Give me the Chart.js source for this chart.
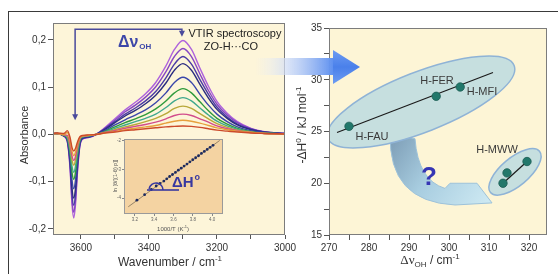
<!DOCTYPE html>
<html>
<head>
<meta charset="utf-8">
<title>VTIR spectroscopy</title>
<script src="https://cdn.jsdelivr.net/npm/chart.js@4.4.1/dist/chart.umd.min.js"></script>
<style>
  html, body { margin: 0; padding: 0; background: #fff; }
  #stage { position: relative; width: 558px; height: 274px; overflow: hidden; background: #fff; }
  #frame { position: absolute; left: 8px; top: 11px; width: 600px; height: 300px;
           border-top: 1.5px solid #3a3a3a; border-left: 1.5px solid #3a3a3a; }
  canvas { position: absolute; }
  #spectra { left: 0; top: 0; width: 300px; height: 274px; }
  #inset { left: 96px; top: 128px; width: 140px; height: 110px; }
  #enthalpy { left: 250px; top: 0; width: 308px; height: 274px; }
</style>
</head>
<body>
<div id="stage">
  <div id="frame"></div>
  <canvas id="spectra" width="300" height="274"></canvas>
  <canvas id="inset" width="140" height="110"></canvas>
  <canvas id="enthalpy" width="308" height="274"></canvas>
</div>
<script>
// spectra (absorbance vs wavenumber), one array per temperature
const wavenumber = [3700, 3670, 3650, 3640, 3632, 3626, 3621, 3616, 3610, 3603, 3595, 3575, 3555, 3530, 3500, 3470,
                    3440, 3410, 3380, 3350, 3325, 3300, 3275, 3250, 3225, 3200, 3170, 3140, 3100, 3060, 3000];
const absRed     = [0.001, 0.003, 0.002, 0.008, -0.006, -0.028, -0.035, -0.030, -0.016, -0.005, -0.002, -0.001, 0.000, 0.003, 0.005, 0.008,
                    0.010, 0.012, 0.014, 0.016, 0.017, 0.018, 0.017, 0.015, 0.012, 0.009, 0.007, 0.005, 0.003, 0.002, 0.001];
const absOrange  = [0.000, 0.002, 0.000, 0.004, -0.012, -0.036, -0.045, -0.038, -0.020, -0.007, -0.003, -0.002, 0.000, 0.003, 0.006, 0.010,
                    0.013, 0.016, 0.019, 0.024, 0.028, 0.030, 0.028, 0.024, 0.019, 0.014, 0.010, 0.007, 0.004, 0.002, 0.001];
const absMagenta = [0.000, 0.002, -0.001, -0.002, -0.020, -0.046, -0.055, -0.047, -0.025, -0.008, -0.003, -0.002, 0.000, 0.004, 0.008, 0.013,
                    0.017, 0.021, 0.026, 0.033, 0.040, 0.043, 0.040, 0.033, 0.026, 0.018, 0.012, 0.008, 0.004, 0.002, 0.001];
const absOlive   = [0.000, 0.002, -0.001, -0.004, -0.025, -0.055, -0.065, -0.055, -0.029, -0.009, -0.004, -0.002, 0.000, 0.004, 0.010, 0.016,
                    0.021, 0.027, 0.034, 0.044, 0.055, 0.060, 0.055, 0.044, 0.033, 0.023, 0.015, 0.009, 0.005, 0.002, 0.001];
const absTeal    = [0.000, 0.002, -0.002, -0.006, -0.032, -0.068, -0.080, -0.068, -0.036, -0.011, -0.005, -0.003, 0.000, 0.005, 0.013, 0.020,
                    0.027, 0.034, 0.043, 0.057, 0.071, 0.078, 0.071, 0.056, 0.041, 0.028, 0.018, 0.011, 0.005, 0.003, 0.001];
const absGreen   = [0.000, 0.002, -0.002, -0.008, -0.038, -0.081, -0.095, -0.081, -0.043, -0.013, -0.005, -0.003, 0.000, 0.006, 0.016, 0.025,
                    0.033, 0.042, 0.054, 0.071, 0.088, 0.097, 0.088, 0.069, 0.050, 0.034, 0.022, 0.013, 0.006, 0.003, 0.001];
const absBlue    = [0.000, 0.002, -0.002, -0.010, -0.046, -0.098, -0.115, -0.098, -0.052, -0.016, -0.006, -0.004, 0.000, 0.008, 0.020, 0.031,
                    0.041, 0.052, 0.067, 0.088, 0.110, 0.121, 0.110, 0.085, 0.062, 0.043, 0.027, 0.016, 0.008, 0.004, 0.001];
const absNavy    = [0.000, 0.002, -0.003, -0.011, -0.054, -0.115, -0.135, -0.115, -0.061, -0.019, -0.008, -0.005, 0.000, 0.010, 0.025, 0.039,
                    0.051, 0.065, 0.083, 0.109, 0.136, 0.150, 0.136, 0.106, 0.077, 0.053, 0.034, 0.020, 0.010, 0.005, 0.002];
const absIndigo  = [0.000, 0.002, -0.003, -0.013, -0.060, -0.128, -0.150, -0.128, -0.068, -0.021, -0.008, -0.005, 0.000, 0.012, 0.027, 0.043,
                    0.056, 0.071, 0.091, 0.120, 0.149, 0.165, 0.149, 0.116, 0.085, 0.058, 0.037, 0.022, 0.011, 0.005, 0.002];
const absPurple  = [0.000, 0.002, -0.003, -0.014, -0.066, -0.140, -0.165, -0.140, -0.074, -0.023, -0.009, -0.006, 0.000, 0.013, 0.030, 0.048,
                    0.062, 0.079, 0.101, 0.133, 0.165, 0.182, 0.165, 0.128, 0.093, 0.064, 0.041, 0.025, 0.012, 0.005, 0.002];
const absViolet  = [0.000, 0.002, -0.004, -0.015, -0.071, -0.150, -0.177, -0.150, -0.080, -0.025, -0.010, -0.006, 0.000, 0.014, 0.033, 0.052,
                    0.068, 0.086, 0.110, 0.145, 0.180, 0.199, 0.180, 0.140, 0.102, 0.070, 0.045, 0.027, 0.013, 0.006, 0.002];

// inset: van't Hoff plot
const invTemp = [3.22, 3.30, 3.37, 3.42, 3.46, 3.50, 3.53, 3.56, 3.59, 3.62, 3.65, 3.68, 3.71, 3.74, 3.77, 3.80,
                 3.83, 3.86, 3.89, 3.92, 3.95, 3.98, 4.01];
const lnTerm  = [-4.07, -3.88, -3.70, -3.58, -3.49, -3.41, -3.33, -3.25, -3.18, -3.11, -3.03, -2.96, -2.89, -2.82, -2.74, -2.67,
                 -2.60, -2.53, -2.45, -2.38, -2.31, -2.24, -2.17];
const invTempFit = [3.13, 4.08];
const lnTermFit = [-4.30, -2.00];

// right panel: enthalpy vs OH shift
const zeolites = ['H-FAU', 'H-FER', 'H-MFI', 'H-MWW', 'H-MWW', 'H-MWW'];
const shiftOH  = [275.0, 296.8, 302.8, 313.5, 314.5, 319.5];
const enthalpy = [25.5, 28.4, 29.3, 20.0, 21.0, 22.1];
const fitShift = [272, 311];
const fitEnthalpy = [24.9, 30.7];
const mwwShift = [313.5, 319.5];
const mwwEnthalpy = [20.0, 22.1];

const FONT = "'Liberation Sans', Arial, sans-serif";
Chart.defaults.font.family = FONT;
Chart.defaults.color = '#333';
Chart.defaults.animation = false;

const xy = (xs, ys) => xs.map((x, i) => ({x: x, y: ys[i]}));

function richText(ctx, parts, cx, cy, rotate) {
    ctx.save();
    ctx.translate(cx, cy);
    if (rotate) ctx.rotate(-Math.PI / 2);
    ctx.textBaseline = 'alphabetic';
    ctx.textAlign = 'left';
    let total = 0;
    parts.forEach(p => { ctx.font = p.font; p.w = ctx.measureText(p.t).width; total += p.w; });
    let x = -total / 2;
    parts.forEach(p => {
        ctx.font = p.font;
        ctx.fillStyle = p.color || '#333';
        ctx.fillText(p.t, x, 4 + (p.dy || 0));
        x += p.w;
    });
    ctx.restore();
}

function plotBox(fill, stroke) {
    return {
        id: 'plotBox',
        beforeDraw(chart) {
            const {ctx, chartArea: a} = chart;
            ctx.save();
            ctx.fillStyle = fill;
            ctx.fillRect(a.left, a.top, a.width, a.height);
            ctx.restore();
        },
        afterDatasetsDraw(chart) {
            const {ctx, chartArea: a} = chart;
            ctx.save();
            ctx.strokeStyle = stroke;
            ctx.lineWidth = 1;
            ctx.strokeRect(a.left + 0.5, a.top + 0.5, a.width - 1, a.height - 1);
            ctx.restore();
        }
    };
}

function spectrum(values, color) {
    return {
        data: xy(wavenumber, values),
        borderColor: color,
        borderWidth: 1.4,
        pointRadius: 0,
        cubicInterpolationMode: 'monotone',
        fill: false
    };
}

const axisTicks = {drawOnChartArea: false, drawTicks: true, color: '#555', lineWidth: 1};

// ---------- left: spectra ----------
const spectraNotes = {
    id: 'spectraNotes',
    afterDatasetsDraw(chart) {
        const {ctx, scales: {x, y}} = chart;
        const xl = x.getPixelForValue(3617), xr = x.getPixelForValue(3303);
        const yt = y.getPixelForValue(0.223);
        const yl = y.getPixelForValue(0.03), yr = y.getPixelForValue(0.207);
        ctx.save();
        ctx.strokeStyle = '#4a4a9c';
        ctx.fillStyle = '#4a4a9c';
        ctx.lineWidth = 1.5;
        ctx.beginPath();
        ctx.moveTo(xl, yl - 4);
        ctx.lineTo(xl, yt);
        ctx.lineTo(xr, yt);
        ctx.lineTo(xr, yr - 4);
        ctx.stroke();
        [[xl, yl], [xr, yr]].forEach(([px, py]) => {
            ctx.beginPath();
            ctx.moveTo(px - 3, py - 6);
            ctx.lineTo(px + 3, py - 6);
            ctx.lineTo(px, py);
            ctx.closePath();
            ctx.fill();
        });

        // delta nu OH
        const tx = x.getPixelForValue(3491), ty = y.getPixelForValue(0.194);
        ctx.fillStyle = '#3c46a8';
        ctx.textBaseline = 'middle';
        ctx.textAlign = 'left';
        ctx.font = 'bold 16px ' + FONT;
        ctx.fillText('Δν', tx, ty);
        const w = ctx.measureText('Δν').width;
        ctx.font = 'bold 8px ' + FONT;
        ctx.fillText('OH', tx + w + 1, ty + 4);

        ctx.fillStyle = '#222';
        ctx.textAlign = 'center';
        ctx.font = '11px ' + FONT;
        ctx.fillText('VTIR spectroscopy', x.getPixelForValue(3147), y.getPixelForValue(0.213));
        ctx.fillText('ZO-H···CO', x.getPixelForValue(3159), y.getPixelForValue(0.185));
        ctx.restore();
    },
    afterDraw(chart) {
        const {ctx} = chart;
        richText(ctx, [{t: 'Absorbance', font: '11px ' + FONT}], 24, 135, true);
        richText(ctx, [{t: 'Wavenumber / cm', font: '12px ' + FONT},
                       {t: '-1', font: '8px ' + FONT, dy: -5}], 170, 262, false);
    }
};

new Chart(document.getElementById('spectra'), {
    type: 'line',
    data: {
        datasets: [
            spectrum(absRed, '#cc4a2a'),
            spectrum(absOrange, '#e6a03c'),
            spectrum(absMagenta, '#d24c8c'),
            spectrum(absOlive, '#b8a83a'),
            spectrum(absTeal, '#40a88e'),
            spectrum(absGreen, '#2f9a3c'),
            spectrum(absBlue, '#3a46aa'),
            spectrum(absNavy, '#2b2c80'),
            spectrum(absIndigo, '#4b3aa6'),
            spectrum(absPurple, '#8746c4'),
            spectrum(absViolet, '#ae62dc')
        ]
    },
    options: {
        responsive: false,
        devicePixelRatio: 1,
        layout: {padding: {left: 0, right: 15, top: 23, bottom: 0}},
        plugins: {legend: {display: false}, tooltip: {enabled: false}},
        scales: {
            x: {
                type: 'linear',
                reverse: true,
                min: 3000,
                max: 3682,
                afterFit: s => { s.height = 39; },
                border: {display: false},
                grid: Object.assign({tickLength: 4}, axisTicks),
                ticks: {
                    stepSize: 100, includeBounds: false, autoSkip: false, maxRotation: 0, padding: 3,
                    font: {size: 10},
                    callback: v => (v % 200 === 0 ? String(v) : '')
                }
            },
            y: {
                min: -0.213,
                max: 0.236,
                afterFit: s => { s.width = 53; },
                border: {display: false},
                grid: Object.assign({tickLength: 5}, axisTicks),
                ticks: {
                    stepSize: 0.1, includeBounds: false, padding: 2,
                    font: {size: 10},
                    callback: v => (Math.abs(v) < 1e-9 ? '0,0' : v.toFixed(1).replace('.', ','))
                }
            }
        }
    },
    plugins: [plotBox('#fdf5d9', '#7c7c7c'), spectraNotes]
});

// ---------- inset: van't Hoff ----------
const insetNotes = {
    id: 'insetNotes',
    afterDraw(chart) {
        const {ctx} = chart;
        richText(ctx, [{t: '1000/T (K', font: '6px ' + FONT, color: '#555'},
                       {t: '-1', font: '4px ' + FONT, dy: -3, color: '#555'},
                       {t: ')', font: '6px ' + FONT, color: '#555'}], 77, 99, false);
        richText(ctx, [{t: 'ln [θ/[(1-θ) p]]', font: '5.5px ' + FONT, color: '#555'}], 17, 48, true);

        ctx.save();
        ctx.strokeStyle = '#3838a0';
        ctx.lineWidth = 1.6;
        ctx.beginPath();
        ctx.moveTo(51, 62);
        ctx.lineTo(83, 62);
        ctx.stroke();
        ctx.beginPath();
        ctx.arc(60, 62, 7, Math.PI * 1.05, Math.PI * 2);
        ctx.stroke();
        ctx.fillStyle = '#3838a0';
        ctx.textBaseline = 'middle';
        ctx.textAlign = 'left';
        ctx.font = 'bold 15px ' + FONT;
        ctx.fillText('ΔH', 76, 55);
        const w = ctx.measureText('ΔH').width;
        ctx.font = 'bold 9px ' + FONT;
        ctx.fillText('o', 76 + w + 1, 50);
        ctx.restore();
    }
};

new Chart(document.getElementById('inset'), {
    type: 'scatter',
    data: {
        datasets: [
            {data: xy(invTemp, lnTerm), pointRadius: 1.4, backgroundColor: '#1c2a60', borderWidth: 0},
            {data: xy(invTempFit, lnTermFit), showLine: true, pointRadius: 0, borderColor: '#7d6e58', borderWidth: 0.8}
        ]
    },
    options: {
        responsive: false,
        devicePixelRatio: 1,
        layout: {padding: {left: 16, right: 13, top: 11, bottom: 0}},
        plugins: {legend: {display: false}, tooltip: {enabled: false}},
        scales: {
            x: {
                type: 'linear', min: 3.086, max: 4.114,
                afterFit: s => { s.height = 24; },
                border: {display: false},
                grid: {drawOnChartArea: false, tickLength: 2, color: '#888'},
                ticks: {stepSize: 0.2, includeBounds: false, maxRotation: 0, autoSkip: false, padding: 1,
                        color: '#666', font: {size: 4.5}, callback: v => v.toFixed(1)}
            },
            y: {
                min: -4.55, max: -1.95,
                afterFit: s => { s.width = 12; },
                border: {display: false},
                grid: {drawOnChartArea: false, tickLength: 2, color: '#888'},
                ticks: {stepSize: 1, includeBounds: false, padding: 1,
                        color: '#666', font: {size: 4.5}, callback: v => String(v)}
            }
        }
    },
    plugins: [plotBox('#f4d3a2', '#9a9a9a'), insetNotes]
});

// ---------- right: enthalpy vs shift ----------
function ellipse(ctx, cx, cy, a, b, angle) {
    ctx.beginPath();
    ctx.ellipse(cx, cy, a, b, angle, 0, Math.PI * 2);
    ctx.fill();
    ctx.stroke();
}

const enthalpyNotes = {
    id: 'enthalpyNotes',
    beforeDatasetsDraw(chart) {
        const {ctx, chartArea: a, scales: {x, y}} = chart;
        const p = (vx, vy) => [x.getPixelForValue(vx), y.getPixelForValue(vy)];
        ctx.save();
        ctx.beginPath();
        ctx.rect(a.left, a.top, a.width, a.height);
        ctx.clip();

        // curved arrow from the big group to H-MWW
        const s0 = p(285.3, 24.8), c0 = p(284.75, 18.2), s1 = p(301.5, 17.9), tip = p(310.75, 18.1);
        const h0 = p(307, 20.0), h1 = p(300.25, 20.0), h2 = p(299, 19.5), c1 = p(292.25, 20.3), s2 = p(291.5, 24.3);
        const grad = ctx.createLinearGradient(s0[0], s0[1], tip[0], tip[1]);
        grad.addColorStop(0, '#7b9bb4');
        grad.addColorStop(0.45, '#a8cde0');
        grad.addColorStop(1, '#cfeaf3');
        ctx.fillStyle = grad;
        ctx.strokeStyle = '#9dc2da';
        ctx.lineWidth = 1;
        ctx.beginPath();
        ctx.moveTo(s0[0], s0[1]);
        ctx.quadraticCurveTo(c0[0], c0[1], s1[0], s1[1]);
        ctx.lineTo(tip[0], tip[1]);
        ctx.lineTo(h0[0], h0[1]);
        ctx.lineTo(h1[0], h1[1]);
        ctx.lineTo(h2[0], h2[1]);
        ctx.quadraticCurveTo(c1[0], c1[1], s2[0], s2[1]);
        ctx.closePath();
        ctx.fill();
        ctx.stroke();

        // groups
        ctx.fillStyle = '#c6dfdf';
        ctx.strokeStyle = '#8fb3d6';
        ctx.lineWidth = 1.5;
        const g1 = p(293, 27.85);
        ellipse(ctx, g1[0], g1[1], 100, 30, -21.4 * Math.PI / 180);
        const g2 = p(316.5, 21.1);
        ellipse(ctx, g2[0], g2[1], 32, 14, -40 * Math.PI / 180);

        const q = p(295, 20.5);
        ctx.fillStyle = '#3636b4';
        ctx.font = 'bold 26px ' + FONT;
        ctx.textAlign = 'center';
        ctx.textBaseline = 'middle';
        ctx.fillText('?', q[0], q[1]);
        ctx.restore();
    },
    afterDraw(chart) {
        const {ctx, scales: {x, y}} = chart;
        ctx.save();
        ctx.fillStyle = '#3a3a3a';
        ctx.font = '11px ' + FONT;
        ctx.textAlign = 'center';
        ctx.textBaseline = 'middle';
        const labelAt = [[280.75, 24.47], [297, 29.88], [308.25, 28.8], [312, 23.2]];
        [0, 1, 2, 3].forEach(i => {
            ctx.fillText(zeolites[i], x.getPixelForValue(labelAt[i][0]), y.getPixelForValue(labelAt[i][1]));
        });

        // arrow between the panels
        const body = ctx.createLinearGradient(5, 0, 84, 0);
        body.addColorStop(0, 'rgba(235,240,250,0)');
        body.addColorStop(0.35, 'rgba(215,225,245,0.7)');
        body.addColorStop(1, '#5c8ff0');
        ctx.fillStyle = body;
        ctx.fillRect(5, 58, 79, 17);
        const head = ctx.createLinearGradient(83, 50, 83, 84);
        head.addColorStop(0, '#6d9cf2');
        head.addColorStop(0.5, '#4a80ea');
        head.addColorStop(1, '#6d9cf2');
        ctx.fillStyle = head;
        ctx.beginPath();
        ctx.moveTo(83, 50);
        ctx.lineTo(110, 67);
        ctx.lineTo(83, 84);
        ctx.closePath();
        ctx.fill();
        ctx.restore();

        richText(ctx, [{t: '-ΔH', font: '12px ' + FONT}, {t: '0', font: '8px ' + FONT, dy: -5},
                       {t: ' / kJ mol', font: '12px ' + FONT}, {t: '-1', font: '8px ' + FONT, dy: -5}], 52, 125, true);
        richText(ctx, [{t: 'Δν', font: '13px "Liberation Serif", serif'}, {t: 'OH', font: '8px ' + FONT, dy: 3},
                       {t: ' / cm', font: '12px ' + FONT}, {t: '-1', font: '8px ' + FONT, dy: -5}], 180, 260, false);
    }
};

new Chart(document.getElementById('enthalpy'), {
    type: 'scatter',
    data: {
        datasets: [
            {data: xy(shiftOH, enthalpy), pointRadius: 4.2, backgroundColor: '#22786b', borderColor: '#1a5c52', borderWidth: 0.8},
            {data: xy(fitShift, fitEnthalpy), showLine: true, pointRadius: 0, borderColor: '#1a1a1a', borderWidth: 1.2},
            {data: xy(mwwShift, mwwEnthalpy), showLine: true, pointRadius: 0, borderColor: '#1a1a1a', borderWidth: 1.2}
        ]
    },
    options: {
        responsive: false,
        devicePixelRatio: 1,
        layout: {padding: {left: 49, right: 11, top: 28, bottom: 0}},
        plugins: {legend: {display: false}, tooltip: {enabled: false}},
        scales: {
            x: {
                type: 'linear', min: 270, max: 324.5,
                afterFit: s => { s.height = 39; },
                border: {display: false},
                grid: Object.assign({tickLength: 5}, axisTicks),
                ticks: {stepSize: 5, includeBounds: false, autoSkip: false, maxRotation: 0, padding: 2,
                        font: {size: 10}, callback: v => (v % 10 === 0 ? String(v) : '')}
            },
            y: {
                min: 15, max: 35,
                afterFit: s => { s.width = 30; },
                border: {display: false},
                grid: Object.assign({tickLength: 5}, axisTicks),
                ticks: {stepSize: 2.5, includeBounds: false, padding: 2,
                        font: {size: 10}, callback: v => (v % 5 === 0 ? String(v) : '')}
            }
        }
    },
    plugins: [plotBox('#fdf5d6', '#7c7c7c'), enthalpyNotes]
});
</script>
</body>
</html>
